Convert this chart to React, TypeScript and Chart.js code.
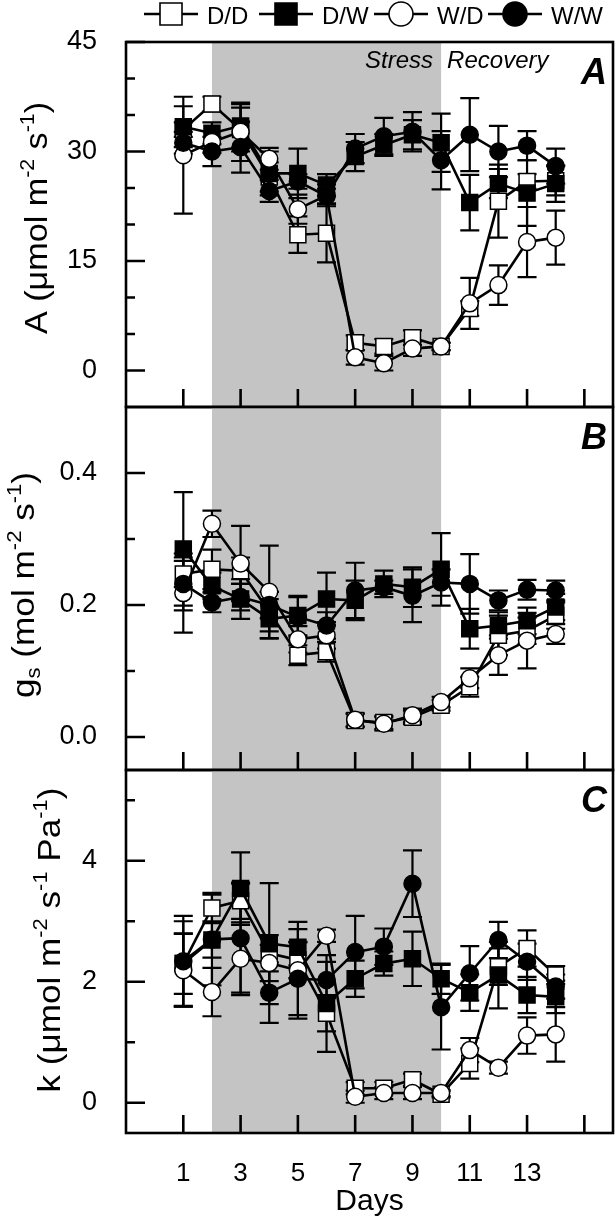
import React, { useEffect, useRef } from 'react';
import { Chart, registerables } from 'chart.js';

Chart.register(...registerables);

const FONT = '"Liberation Sans", Arial, Helvetica, sans-serif';

// ---------- shared data ----------
const days = [1, 2, 3, 4, 5, 6, 7, 8, 9, 10, 11, 12, 13, 14];
const seriesLabels = ['D/D', 'D/W', 'W/D', 'W/W'];
const xTickMarks = [1, 3, 5, 7, 9, 11, 13, 15];
const xTickLabels = [1, 3, 5, 7, 9, 11, 13];
const stressPeriod = [2, 10];
const periodLabels = ['Stress', 'Recovery'];
const xTitle = 'Days';

// ---------- panel A : net assimilation ----------
const aTicks = [0, 15, 30, 45];
const aMinor = [5, 10, 20, 25, 35, 40];
const aDD = [33, 36.5, 33, 26.5, 18.6, 18.8, 3.8, 3.3, 4.5, 3.3, 8.5, 23.2, 25.9, 26];
const aDW = [33.4, 32.5, 33.5, 27, 27, 25.4, 29.3, 30.9, 32.3, 31.2, 23, 25.6, 24.3, 25.6];
const aWD = [29.5, 31.3, 32.7, 29, 22.1, 24, 1.8, 1, 3, 3.3, 9.2, 11.7, 17.6, 18.2];
const aWW = [31.2, 30, 30.6, 24.6, 25.9, 23.9, 30.4, 32.1, 32.7, 28.8, 32.3, 30, 30.8, 28];
const aDDerr = [1, 1, 3, 2, 2.5, 4, 1, 1, 1, 0.5, 1, 5, 1, 2];
const aDWerr = [2.8, 1.5, 3, 3, 3.4, 1.5, 2, 1.5, 2, 4, 3.8, 2, 4.5, 2.5];
const aWDerr = [8, 1.5, 4, 1.5, 2, 1.5, 1, 1, 1, 0.5, 3.5, 2.7, 4.8, 3.7];
const aWWerr = [1.5, 2, 3.5, 1.5, 1, 1, 2, 2.5, 2.7, 4, 5, 3.5, 2, 2.4];

// ---------- panel B : stomatal conductance ----------
const bTicks = [0, 0.2, 0.4];
const bMinor = [0.1, 0.3];
const bDD = [0.247, 0.254, 0.252, 0.19, 0.124, 0.129, 0.025, 0.022, 0.03, 0.048, 0.076, 0.154, 0.161, 0.184];
const bDW = [0.285, 0.229, 0.209, 0.179, 0.184, 0.209, 0.207, 0.232, 0.227, 0.254, 0.164, 0.169, 0.176, 0.197];
const bWD = [0.218, 0.323, 0.263, 0.22, 0.148, 0.154, 0.026, 0.02, 0.033, 0.053, 0.089, 0.124, 0.146, 0.156];
const bWW = [0.232, 0.204, 0.212, 0.2, 0.182, 0.169, 0.222, 0.227, 0.214, 0.234, 0.232, 0.207, 0.223, 0.222];
const bDDerr = [0.02, 0.03, 0.02, 0.03, 0.015, 0.015, 0.01, 0.01, 0.01, 0.008, 0.015, 0.03, 0.02, 0.02];
const bDWerr = [0.086, 0.02, 0.03, 0.03, 0.03, 0.04, 0.03, 0.02, 0.03, 0.055, 0.03, 0.02, 0.02, 0.02];
const bWDerr = [0.06, 0.02, 0.057, 0.07, 0.02, 0.02, 0.01, 0.01, 0.01, 0.008, 0.015, 0.03, 0.042, 0.015];
const bWWerr = [0.04, 0.015, 0.02, 0.02, 0.03, 0.02, 0.042, 0.01, 0.04, 0.02, 0.045, 0.015, 0.015, 0.015];

// ---------- panel C : hydraulic conductance ----------
const cTicks = [0, 2, 4];
const cMinor = [1, 3, 5];
const cDD = [2.3, 3.22, 3.34, 2.47, 2.36, 1.48, 0.24, 0.24, 0.38, 0.14, 0.65, 2.25, 2.55, 2.11];
const cDW = [2.3, 2.69, 3.54, 2.63, 2.57, 1.64, 2.05, 2.3, 2.38, 2.05, 1.82, 2.11, 1.78, 1.75];
const cWD = [2.19, 1.83, 2.38, 2.31, 2.19, 2.76, 0.1, 0.16, 0.16, 0.16, 0.87, 0.58, 1.11, 1.13];
const cWW = [2.34, 2.7, 2.72, 1.82, 2.05, 2.03, 2.49, 2.58, 3.62, 1.58, 2.14, 2.69, 2.33, 1.92];
const cDDerr = [0.5, 0.25, 0.3, 0.3, 0.3, 0.3, 0.1, 0.1, 0.1, 0.05, 0.25, 0.3, 0.3, 0.15];
const cDWerr = [0.7, 0.75, 0.6, 1.0, 0.3, 0.8, 0.3, 0.2, 0.45, 0.25, 0.3, 0.55, 0.3, 0.27];
const cWDerr = [0.6, 0.4, 0.6, 0.3, 0.8, 0.1, 0.1, 0.1, 0.1, 0.05, 0.2, 0.1, 0.3, 0.45];
const cWWerr = [0.75, 0.3, 0.9, 0.5, 0.6, 0.3, 0.6, 0.3, 0.55, 0.7, 0.45, 0.3, 0.3, 0.2];

// axis titles (rich text pieces)
const aTitle = [{ t: 'A (\u03bcmol m' }, { t: '-2', sup: true }, { t: ' s' }, { t: '-1', sup: true }, { t: ')' }];
const bTitle = [{ t: 'g' }, { t: 's', sub: true }, { t: ' (mol m' }, { t: '-2', sup: true }, { t: ' s' }, { t: '-1', sup: true }, { t: ')' }];
const cTitle = [{ t: 'k (\u03bcmol m' }, { t: '-2', sup: true }, { t: ' s' }, { t: '-1', sup: true }, { t: ' Pa' }, { t: '-1', sup: true }, { t: ')' }];

// ---------- styles ----------
const seriesStyles = [
  { shape: 'rect', fill: '#ffffff' },
  { shape: 'rect', fill: '#000000' },
  { shape: 'circle', fill: '#ffffff' },
  { shape: 'circle', fill: '#000000' },
];
const SHADE = '#c4c4c4';

const panels = [
  {
    letter: 'A', canvasTop: 0, canvasHeight: 410, padTop: 42, xAxisHeight: 3,
    yMin: -5, yMax: 45, yTicks: aTicks, yMinor: aMinor, decimals: 0,
    values: [aDD, aDW, aWD, aWW], errors: [aDDerr, aDWerr, aWDerr, aWWerr],
    title: aTitle, titleX: 47, titleY: 218, titleLen: 232, showX: false, legend: true, periods: true,
  },
  {
    letter: 'B', canvasTop: 400, canvasHeight: 373, padTop: 7, xAxisHeight: 3,
    yMin: -0.05, yMax: 0.5, yTicks: bTicks, yMinor: bMinor, decimals: 1,
    values: [bDD, bDW, bWD, bWW], errors: [bDDerr, bDWerr, bWDerr, bWWerr],
    title: bTitle, titleX: 34, titleY: 585, titleLen: 226, showX: false, legend: false, periods: false,
  },
  {
    letter: 'C', canvasTop: 763, canvasHeight: 459, padTop: 7, xAxisHeight: 89,
    yMin: -0.5, yMax: 5.5, yTicks: cTicks, yMinor: cMinor, decimals: 0,
    values: [cDD, cDW, cWD, cWW], errors: [cDDerr, cDWerr, cWDerr, cWWerr],
    title: cTitle, titleX: 60, titleY: 940, titleLen: 305, showX: true, legend: false, periods: false,
  },
];

function drawRich(ctx, parts, size, targetLen) {
  const small = Math.round(size * 0.62);
  const widths = parts.map((p) => {
    ctx.font = `${p.sup || p.sub ? small : size}px ${FONT}`;
    return ctx.measureText(p.t).width;
  });
  const total = widths.reduce((a, b) => a + b, 0);
  const k = targetLen ? targetLen / total : 1;
  ctx.scale(k, 1);
  let x = -total / 2;
  parts.forEach((p, i) => {
    ctx.font = `${p.sup || p.sub ? small : size}px ${FONT}`;
    const dy = p.sup ? -size * 0.42 : p.sub ? size * 0.2 : 0;
    ctx.fillText(p.t, x, dy);
    x += widths[i];
  });
}

function makeDecor(panel) {
  return {
    id: 'decor' + panel.letter,
    beforeDatasetsDraw(chart) {
      const { ctx, chartArea: ca, scales } = chart;
      const x = scales.x;
      const y = scales.y;
      ctx.save();
      const x0 = x.getPixelForValue(stressPeriod[0]);
      const x1 = x.getPixelForValue(stressPeriod[1]);
      ctx.fillStyle = SHADE;
      ctx.fillRect(x0, ca.top, x1 - x0, ca.bottom - ca.top);
      ctx.strokeStyle = '#000';
      ctx.lineWidth = 2.2;
      chart.data.datasets.forEach((ds, i) => {
        const meta = chart.getDatasetMeta(i);
        ds.data.forEach((pt, j) => {
          const e = ds.errors[j];
          if (!e) return;
          const px = meta.data[j].x;
          const yt = y.getPixelForValue(pt.y + e);
          const yb = y.getPixelForValue(pt.y - e);
          ctx.beginPath();
          ctx.moveTo(px, yt); ctx.lineTo(px, yb);
          ctx.moveTo(px - 9.5, yt); ctx.lineTo(px + 9.5, yt);
          ctx.moveTo(px - 9.5, yb); ctx.lineTo(px + 9.5, yb);
          ctx.stroke();
        });
      });
      ctx.restore();
    },
    afterDatasetsDraw(chart) {
      const { ctx, chartArea: ca, scales } = chart;
      const x = scales.x;
      const y = scales.y;
      ctx.save();
      ctx.strokeStyle = '#000';
      ctx.fillStyle = '#000';
      // frame
      ctx.lineWidth = 2.6;
      ctx.strokeRect(ca.left, ca.top, ca.right - ca.left, ca.bottom - ca.top);
      // tick marks (inward)
      ctx.beginPath();
      xTickMarks.forEach((v) => {
        const px = x.getPixelForValue(v);
        ctx.moveTo(px, ca.bottom); ctx.lineTo(px, ca.bottom - 18);
      });
      panel.yTicks.forEach((v) => {
        const py = y.getPixelForValue(v);
        ctx.moveTo(ca.left, py); ctx.lineTo(ca.left + 19, py);
      });
      panel.yMinor.forEach((v) => {
        const py = y.getPixelForValue(v);
        ctx.moveTo(ca.left, py); ctx.lineTo(ca.left + 9, py);
      });
      ctx.stroke();
      // panel letter
      ctx.font = `italic bold 36px ${FONT}`;
      ctx.textAlign = 'right';
      ctx.textBaseline = 'alphabetic';
      ctx.fillText(panel.letter, ca.right - 6, ca.top + 42);
      // period labels
      if (panel.periods) {
        const xs = x.getPixelForValue(stressPeriod[1]);
        ctx.font = `italic 24px ${FONT}`;
        ctx.textBaseline = 'middle';
        ctx.textAlign = 'right';
        ctx.fillText(periodLabels[0], xs - 8, ca.top + 19);
        ctx.textAlign = 'left';
        ctx.fillText(periodLabels[1], xs + 6, ca.top + 19);
      }
      // y axis title
      ctx.save();
      ctx.translate(panel.titleX, panel.titleY - panel.canvasTop);
      ctx.rotate(-Math.PI / 2);
      ctx.textAlign = 'left';
      ctx.textBaseline = 'alphabetic';
      drawRich(ctx, panel.title, 32, panel.titleLen);
      ctx.restore();
      // legend
      if (panel.legend) {
        const centers = [171, 286, 401, 515];
        const ly = 14;
        seriesLabels.forEach((lab, i) => {
          const cx = centers[i];
          ctx.lineWidth = 2.5;
          ctx.beginPath();
          ctx.moveTo(cx - 27, ly); ctx.lineTo(cx + 27, ly);
          ctx.stroke();
          ctx.fillStyle = seriesStyles[i].fill;
          ctx.lineWidth = 1.6;
          ctx.beginPath();
          if (seriesStyles[i].shape === 'rect') {
            ctx.rect(cx - 11, ly - 11, 22, 22);
          } else {
            ctx.arc(cx, ly, 12, 0, Math.PI * 2);
          }
          ctx.fill();
          ctx.stroke();
          ctx.fillStyle = '#000';
          ctx.font = `24px ${FONT}`;
          ctx.textAlign = 'left';
          ctx.textBaseline = 'middle';
          ctx.fillText(lab, cx + 36, ly + 3);
        });
      }
      ctx.restore();
    },
  };
}

function buildConfig(panel) {
  const datasets = panel.values.map((vals, i) => ({
    label: seriesLabels[i],
    data: days.map((d, j) => ({ x: d, y: vals[j] })),
    errors: panel.errors[i],
    borderColor: '#000',
    borderWidth: 2.6,
    pointStyle: seriesStyles[i].shape,
    pointRadius: seriesStyles[i].shape === 'rect' ? 11.3 : 8.5,
    pointBackgroundColor: seriesStyles[i].fill,
    pointBorderColor: '#000',
    pointBorderWidth: 1.5,
    pointHoverRadius: 0,
    fill: false,
    tension: 0,
    order: 3 - i,
  }));
  return {
    type: 'line',
    data: { datasets },
    options: {
      animation: false,
      responsive: false,
      maintainAspectRatio: false,
      events: [],
      layout: { autoPadding: false, padding: { top: panel.padTop, right: 2, bottom: 0, left: 0 } },
      plugins: { legend: { display: false }, tooltip: { enabled: false } },
      scales: {
        x: {
          type: 'linear',
          min: -1,
          max: 16,
          grid: { display: false },
          border: { display: false },
          ticks: {
            display: panel.showX,
            padding: 17,
            color: '#000',
            font: { family: FONT, size: 26 },
            maxRotation: 0,
            autoSkip: false,
          },
          title: {
            display: panel.showX,
            text: xTitle,
            color: '#000',
            font: { family: FONT, size: 30 },
            padding: { top: 0, bottom: 2 },
          },
          afterBuildTicks: (s) => {
            s.ticks = xTickLabels.map((v) => ({ value: v }));
          },
          afterFit: (s) => {
            s.height = panel.xAxisHeight;
            s.paddingLeft = 0;
            s.paddingRight = 0;
          },
        },
        y: {
          type: 'linear',
          min: panel.yMin,
          max: panel.yMax,
          grid: { display: false },
          border: { display: false },
          ticks: {
            padding: 21,
            color: '#000',
            font: { family: FONT, size: 27 },
            callback: (v) => Number(v).toFixed(panel.decimals),
          },
          afterBuildTicks: (s) => {
            s.ticks = panel.yTicks.map((v) => ({ value: v }));
          },
          afterFit: (s) => {
            s.width = 126;
            s.paddingTop = 0;
            s.paddingBottom = 0;
          },
        },
      },
    },
    plugins: [makeDecor(panel)],
  };
}

function PanelChart({ panel }) {
  const ref = useRef(null);
  useEffect(() => {
    const chart = new Chart(ref.current, buildConfig(panel));
    return () => chart.destroy();
  }, [panel]);
  return (
    <canvas
      ref={ref}
      width={615}
      height={panel.canvasHeight}
      style={{ position: 'absolute', left: 0, top: panel.canvasTop, width: 615, height: panel.canvasHeight }}
    />
  );
}

export default function App() {
  return (
    <div style={{ position: 'absolute', left: 0, top: 0, width: 615, height: 1222, background: '#fff' }}>
      {panels.map((p) => (
        <PanelChart key={p.letter} panel={p} />
      ))}
    </div>
  );
}
